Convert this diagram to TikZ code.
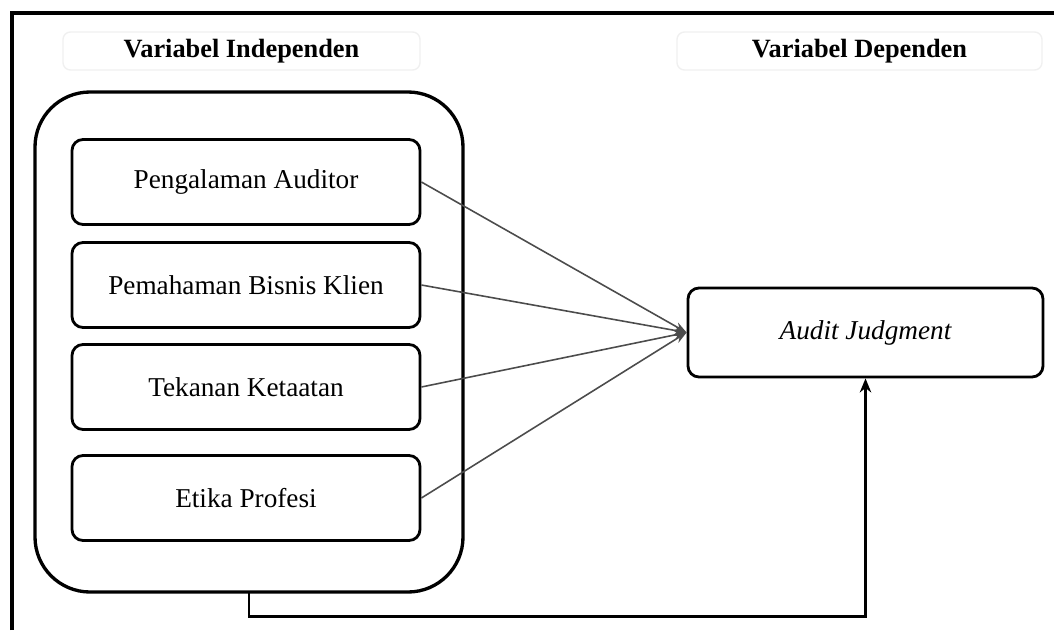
\documentclass[tikz,border=0pt]{standalone}
\usepackage{fontspec}
\setmainfont{Liberation Serif}
\usepackage{tikz}
\usetikzlibrary{positioning}
\usetikzlibrary{arrows.meta}

\tikzset{
  varbox/.style={draw, line width=1.6pt, rounded corners=0.22cm, minimum width=6.96cm,
    minimum height=1.7cm, font=\fontsize{15.5}{17}\selectfont},
  headbox/.style={draw=black!6, line width=0.8pt, rounded corners=0.15cm, minimum height=0.76cm,
    font=\bfseries\fontsize{15}{17}\selectfont},
  link/.style={draw=black!70, line width=0.9pt, -{Stealth[length=7pt,width=5pt]}}
}

\begin{document}
\begin{tikzpicture}
  \useasboundingbox (0,0) rectangle (21.08,12.6);

  % frame
  \draw[line width=2pt] (0.24,0) -- (0.24,12.34) -- (21.08,12.34);

  % headers
  \node[headbox, minimum width=7.14cm] (hind) at (4.83,11.58) {Variabel Independen};
  \node[headbox, minimum width=7.3cm] (hdep) at (17.19,11.58) {Variabel Dependen};

  % independent variables
  \draw[line width=1.9pt, rounded corners=1.1cm] (0.7,0.76) rectangle (9.26,10.76);
  \coordinate (grp) at (4.98,0.76);

  \node[varbox] (pa) at (4.92,8.96) {Pengalaman Auditor};
  \node[varbox] (pbk) at (4.92,6.9) {Pemahaman Bisnis Klien};
  \node[varbox] (tk) at (4.92,4.86) {Tekanan Ketaatan};
  \node[varbox] (ep) at (4.92,2.64) {Etika Profesi};

  % dependent variable
  \node[varbox, minimum width=7.1cm, minimum height=1.78cm, font=\itshape\fontsize{15.5}{17}\selectfont]
    (aj) at (17.31,5.95) {Audit Judgment};

  \foreach \v in {pa,pbk,tk,ep}
    \draw[link] (\v.east) -- (aj.west);

  \coordinate (low) at (4.98,0.28);
  \draw[line width=1.7pt, -{Stealth[length=8pt,width=6.5pt]}]
    (grp) -- (low) -| (aj.south);

\end{tikzpicture}
\end{document}
